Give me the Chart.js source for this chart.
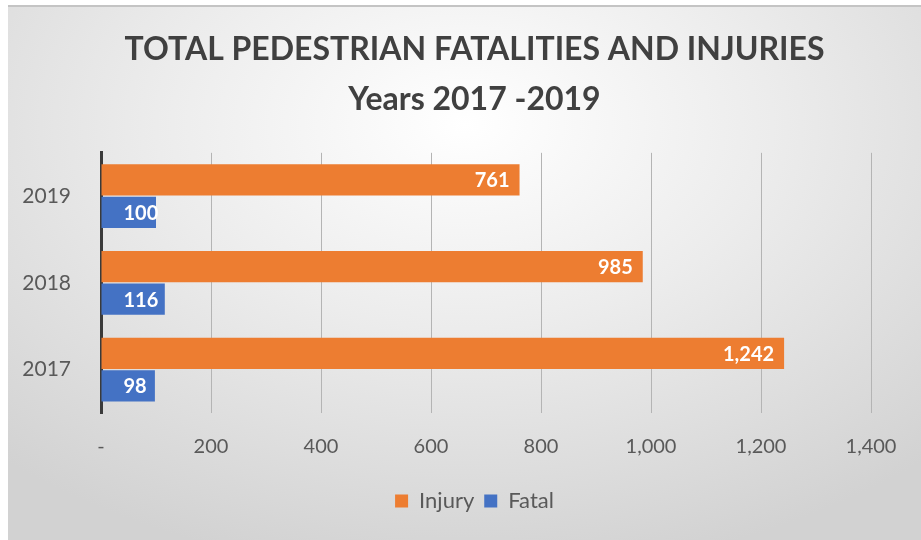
<!DOCTYPE html>
<html>
<head>
<meta charset="utf-8">
<script src="https://cdn.jsdelivr.net/npm/chart.js@4/dist/chart.umd.min.js"></script>
<style>
  html, body { margin: 0; padding: 0; background: #fff; }
  #wrap {
    position: absolute; left: 8px; top: 5px; width: 913px; height: 535px;
    border-top: 2px solid #c4c4c4;
    box-sizing: border-box;
    background: radial-gradient(ellipse 75% 85% at 50% 22%, #ffffff 0%, #ececec 45%, #d2d2d2 100%);
  }
  canvas { display: block; }
</style>
</head>
<body>
<div id="wrap"><canvas id="chart" width="913" height="533"></canvas></div>
<script>
// categories and series
const years = ["2019", "2018", "2017"];
const injury = [761, 985, 1242];
const fatal = [100, 116, 98];
const xTicks = [0, 200, 400, 600, 800, 1000, 1200, 1400];

const ORANGE = "#ED7D31";
const BLUE = "#4472C4";
const TEXT = "#595959";

function fmt(v) {
  return v === 0 ? "-" : v.toLocaleString("en-US");
}

// value labels drawn inside the end of each bar
const barLabels = {
  id: "barLabels",
  afterDatasetsDraw(chart) {
    const ctx = chart.ctx;
    ctx.save();
    ctx.font = "bold 20px Lato";
    ctx.fillStyle = "#ffffff";
    ctx.textBaseline = "middle";
    chart.data.datasets.forEach((ds, i) => {
      chart.getDatasetMeta(i).data.forEach((bar, j) => {
        const txt = fmt(ds.data[j]);
        const w = ctx.measureText(txt).width;
        let right = bar.x - 10;
        if (right - w < bar.base + 22) right = bar.base + 22 + w;
        ctx.textAlign = "right";
        ctx.fillText(txt, right, bar.y + 1);
      });
    });
    ctx.restore();
  }
};

// center title and legend on the whole frame, not on the padded area
const recenter = {
  id: "recenter",
  afterLayout(chart) {
    [chart.titleBlock, chart.legend].forEach(b => {
      if (!b) return;
      b.left += 35;
      b.right += 35;
    });
  }
};

new Chart(document.getElementById("chart"), {
  type: "bar",
  data: {
    labels: years,
    datasets: [
      { label: "Injury", data: injury, backgroundColor: ORANGE },
      { label: "Fatal", data: fatal, backgroundColor: BLUE }
    ]
  },
  options: {
    indexAxis: "y",
    responsive: false,
    animation: false,
    datasets: {
      bar: { categoryPercentage: 0.75, barPercentage: 0.96 }
    },
    layout: { padding: { left: 0, right: 50, top: 0, bottom: 18 } },
    scales: {
      x: {
        min: 0,
        max: 1400,
        afterBuildTicks(scale) {
          scale.ticks = xTicks.map(v => ({ value: v }));
        },
        grid: { color: "#b4b4b4", lineWidth: 1, drawTicks: false },
        border: { display: false },
        ticks: {
          color: TEXT,
          font: { family: "Lato", size: 20 },
          padding: 22,
          callback: v => fmt(v)
        },
        afterFit(scale) { scale.height = 67; }
      },
      y: {
        grid: { display: false },
        border: { color: "#3a3a3a", width: 3 },
        ticks: {
          color: TEXT,
          font: { family: "Lato", size: 21 },
          padding: 22
        },
        afterFit(scale) { scale.width = 93; }
      }
    },
    plugins: {
      title: {
        display: true,
        text: ["TOTAL PEDESTRIAN FATALITIES AND INJURIES", "Years 2017 -2019"],
        color: "#404040",
        font: { family: "Lato", size: 32, weight: "bold", lineHeight: 1.56 },
        padding: { top: 18, bottom: 28 }
      },
      legend: {
        position: "bottom",
        labels: {
          color: TEXT,
          font: { family: "Lato", size: 22 },
          boxWidth: 13,
          boxHeight: 13,
          padding: 10
        }
      },
      tooltip: { enabled: false }
    }
  },
  plugins: [barLabels, recenter]
});
</script>
</body>
</html>
